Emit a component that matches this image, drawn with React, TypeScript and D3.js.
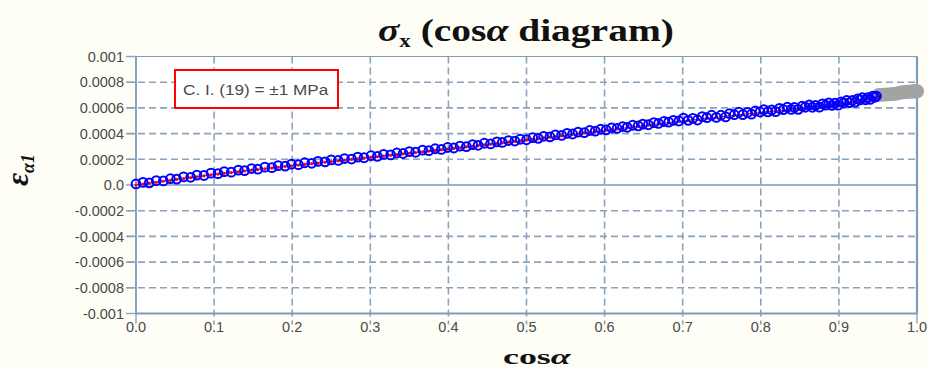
import React, { useLayoutEffect, useRef, useState } from "react";
import * as d3 from "d3";

// cos(alpha) of the measured points
const cosAlpha = [
  0.000, 0.009, 0.017, 0.026, 0.035, 0.044, 0.052, 0.061, 0.070, 0.078, 0.087, 0.096,
  0.105, 0.113, 0.122, 0.131, 0.139, 0.148, 0.156, 0.165, 0.174, 0.182, 0.191, 0.199,
  0.208, 0.216, 0.225, 0.233, 0.242, 0.250, 0.259, 0.267, 0.276, 0.284, 0.292,
  0.301, 0.309, 0.317, 0.326, 0.334, 0.342, 0.350, 0.358, 0.367, 0.375, 0.383, 0.391, 0.399,
  0.407, 0.415, 0.423, 0.431, 0.438, 0.446, 0.454, 0.462, 0.469, 0.477, 0.485, 0.492,
  0.500, 0.508, 0.515, 0.522, 0.530, 0.537, 0.545, 0.552, 0.559, 0.566, 0.574, 0.581, 0.588, 0.595,
  0.602, 0.609, 0.616, 0.623, 0.629, 0.636, 0.643, 0.649, 0.656, 0.663, 0.669, 0.676, 0.682, 0.688, 0.695,
  0.701, 0.707, 0.713, 0.719, 0.725, 0.731, 0.737, 0.743, 0.749, 0.755, 0.760, 0.766, 0.772, 0.777, 0.783, 0.788, 0.793, 0.799,
  0.804, 0.809, 0.814, 0.819, 0.824, 0.829, 0.834, 0.839, 0.843, 0.848, 0.853, 0.857, 0.862, 0.866, 0.870, 0.875, 0.879, 0.883, 0.887, 0.891, 0.895, 0.899,
  0.903, 0.906, 0.910, 0.914, 0.917, 0.921, 0.924, 0.927, 0.930, 0.934, 0.937, 0.940, 0.943, 0.946, 0.948,
];

// measured strain (micro-strain), blue circles
const measuredMicro = [
  8, 20, 17, 34, 32, 49, 46, 63, 60, 77, 74, 92,
  88, 104, 100, 116, 112, 128, 123, 139, 135, 151, 147, 162,
  158, 173, 169, 184, 180, 195, 191, 206, 202, 217, 212,
  228, 223, 238, 234, 249, 245, 260, 255, 271, 267, 282, 277, 292,
  288, 303, 299, 314, 309, 325, 320, 336, 331, 346, 342, 356,
  352, 368, 363, 379, 375, 390, 386, 402, 397, 412, 408, 424, 419, 434,
  429, 445, 440, 455, 449, 465, 460, 474, 469, 485, 479, 494, 489, 503, 498,
  520, 503, 519, 506, 532, 524, 543, 526, 543, 530, 555, 547, 566, 548, 565, 551, 576, 568,
  587, 569, 585, 571, 596, 587, 605, 588, 603, 589, 614, 605, 623, 605, 620, 606, 631, 621, 639, 620, 636, 621,
  647, 639, 658, 641, 658, 645, 670, 662, 680, 663, 680, 666, 691, 683, 692,
];

// computed strain (micro-strain), red dots
const computedMicro = [
  0, 7, 14, 21, 29, 36, 43, 50, 57, 64, 71, 79,
  85, 91, 97, 103, 109, 115, 120, 126, 132, 138, 144, 149,
  155, 160, 166, 171, 177, 182, 188, 193, 199, 204, 209,
  215, 220, 225, 231, 236, 242, 247, 252, 258, 264, 269, 274, 279,
  285, 290, 296, 301, 306, 312, 317, 323, 328, 333, 339, 343,
  349, 355, 360, 366, 372, 377, 383, 389, 394, 399, 405, 411, 416, 421,
  426, 432, 437, 442, 446, 452, 457, 461, 466, 472, 476, 481, 486, 490, 495,
  500, 504, 507, 511, 515, 519, 523, 527, 531, 535, 538, 542, 546, 549, 553, 556, 559, 563,
  567, 570, 573, 576, 579, 582, 585, 589, 591, 594, 597, 600, 603, 606, 608, 611, 614, 616, 619, 621, 624, 626,
  630, 634, 638, 642, 646, 650, 653, 657, 660, 664, 668, 671, 674, 678, 680,
];

// excluded points (gray)
const grayCos = [0.951, 0.956, 0.961, 0.966, 0.970, 0.974, 0.978, 0.982, 0.985, 0.988, 0.990, 0.993, 0.995, 0.996, 0.998, 0.999, 1.0];
const grayMicro = [700, 702, 704, 706, 708, 712, 718, 722, 724, 725, 726, 727, 728, 728, 729, 729, 730];

const xTicks = [0, 0.1, 0.2, 0.3, 0.4, 0.5, 0.6, 0.7, 0.8, 0.9, 1.0];
const xTickLabels = ["0.0", "0.1", "0.2", "0.3", "0.4", "0.5", "0.6", "0.7", "0.8", "0.9", "1.0"];
const yTicks = [0.001, 0.0008, 0.0006, 0.0004, 0.0002, 0, -0.0002, -0.0004, -0.0006, -0.0008, -0.001];
const yTickLabels = ["0.001", "0.0008", "0.0006", "0.0004", "0.0002", "0.0", "-0.0002", "-0.0004", "-0.0006", "-0.0008", "-0.001"];
const legendText = "C. I. (19) = \u00B11 MPa";

const W = 929;
const H = 367;
const PL = 136, PR = 917, PT = 56.5, PB = 313.5;
const GRID = "#8ba4bc";
const AXIS = "#7e9bb7";
const LABEL = "#4a4a4a";

function FitText({ x0, x1, children }: { x0: number; x1: number; children: React.ReactNode }) {
  const ref = useRef<SVGGElement>(null);
  const [t, setT] = useState("");
  useLayoutEffect(() => {
    const g = ref.current;
    if (!g || !g.firstChild) return;
    const b = (g.firstChild as SVGGraphicsElement).getBBox();
    if (b.width > 0) {
      const sx = (x1 - x0) / b.width;
      setT(`translate(${x0},0) scale(${sx},1) translate(${-b.x},0)`);
    }
  }, [x0, x1]);
  return <g ref={ref} transform={t}>{children}</g>;
}

export default function App() {
  const x = d3.scaleLinear().domain([0, 1]).range([PL, PR]);
  const y = d3.scaleLinear().domain([-0.001, 0.001]).range([PB, PT]);
  const n = Math.min(cosAlpha.length, measuredMicro.length, computedMicro.length);
  const idx = d3.range(n);
  const redLine = d3
    .line<number>()
    .x((i) => x(cosAlpha[i]))
    .y((i) => y(computedMicro[i] * 1e-6))(idx) as string;

  return (
    <svg width={W} height={H} style={{ position: "absolute", left: 0, top: 0 }}>
      <rect x={0} y={0} width={W} height={H} fill="#fefef6" />
      <rect x={PL} y={PT} width={PR - PL} height={PB - PT} fill="#ffffff" />

      {/* horizontal grid */}
      {yTicks.map((v, i) =>
        v === 0 || Math.abs(v) === 0.001 ? null : (
          <line key={"hg" + i} x1={PL - 9} x2={PR} y1={y(v)} y2={y(v)} stroke={GRID} strokeWidth={1.6} strokeDasharray="7,4" />
        )
      )}
      {/* vertical grid */}
      {xTicks.map((v, i) =>
        v === 0 || v === 1 ? null : (
          <line key={"vg" + i} x1={x(v)} x2={x(v)} y1={PT} y2={PB + 11} stroke={GRID} strokeWidth={1.6} strokeDasharray="7,4" />
        )
      )}
      {/* y tick marks */}
      {yTicks.map((v, i) => (
        <line key={"yt" + i} x1={PL - 10} x2={PL} y1={y(v)} y2={y(v)} stroke={GRID} strokeWidth={1.4} />
      ))}
      <line x1={x(0)} x2={x(0)} y1={PB} y2={PB + 10} stroke={GRID} strokeWidth={1.4} />
      <line x1={x(1)} x2={x(1)} y1={PB} y2={PB + 10} stroke={GRID} strokeWidth={1.4} />

      {/* zero line */}
      <line x1={PL} x2={PR} y1={y(0)} y2={y(0)} stroke={AXIS} strokeWidth={1.6} />
      {/* frame */}
      <line x1={PL} x2={PR} y1={PT} y2={PT} stroke={AXIS} strokeWidth={1.2} />
      <line x1={PL} x2={PR} y1={PB} y2={PB} stroke={AXIS} strokeWidth={1.8} />
      <line x1={PL} x2={PL} y1={PT} y2={PB} stroke={AXIS} strokeWidth={1.8} />
      <line x1={PR} x2={PR} y1={PT} y2={PB} stroke={AXIS} strokeWidth={2.2} />

      {/* tick labels */}
      {yTicks.map((v, i) => (
        <text key={"yl" + i} x={PL - 12} y={y(v)} dy="0.36em" textAnchor="end" fontFamily="Liberation Sans, Arial, sans-serif" fontSize={14.5} fill={LABEL}>
          {yTickLabels[i]}
        </text>
      ))}
      {xTicks.map((v, i) => (
        <text key={"xl" + i} x={x(v)} y={332} textAnchor="middle" fontFamily="Liberation Sans, Arial, sans-serif" fontSize={14.5} fill={LABEL}>
          {xTickLabels[i]}
        </text>
      ))}

      {/* gray excluded band */}
      {grayCos.map((c, i) => (
        <circle key={"g" + i} cx={x(c)} cy={y(grayMicro[i] * 1e-6)} r={7} fill="#a3a3a3" />
      ))}

      {/* red computed */}
      <path d={redLine} fill="none" stroke="#ff0000" strokeWidth={1} />
      {idx.map((i) => (
        <circle key={"r" + i} cx={x(cosAlpha[i])} cy={y(computedMicro[i] * 1e-6)} r={1.6} fill="#ff0000" />
      ))}

      {/* blue measured */}
      {idx.map((i) => (
        <circle key={"b" + i} cx={x(cosAlpha[i])} cy={y(measuredMicro[i] * 1e-6)} r={4.4} fill="none" stroke="#0000ff" strokeWidth={2} />
      ))}

      {/* legend */}
      <rect x={175} y={70} width={163} height={38} fill="#ffffff" stroke="#ff0000" strokeWidth={2} />
      <FitText x0={183} x1={329}>
        <text x={0} y={95} fontFamily="Liberation Sans, Arial, sans-serif" fontSize={15} fill={LABEL}>
          {legendText}
        </text>
      </FitText>

      {/* title */}
      <FitText x0={378} x1={674}>
        <text y={41} fontFamily="Liberation Serif, Times New Roman, serif" fontWeight="bold" fontSize={31} fill="#111" style={{ whiteSpace: "pre" }}>
          <tspan fontStyle="italic">σ</tspan>
          <tspan fontSize={18} dy={6}>x</tspan>
          <tspan dy={-6}> (cos</tspan>
          <tspan fontStyle="italic">α</tspan>
          <tspan> diagram)</tspan>
        </text>
      </FitText>

      {/* x axis title */}
      <FitText x0={503} x1={572}>
        <text y={364} fontFamily="Liberation Serif, Times New Roman, serif" fontWeight="bold" fontSize={22} fill="#111">
          cos<tspan fontStyle="italic">α</tspan>
        </text>
      </FitText>

      {/* y axis title */}
      <text transform="translate(28,170) rotate(-90)" textAnchor="middle" fontFamily="Liberation Serif, Times New Roman, serif" fontWeight="bold" fontStyle="italic" fontSize={32} fill="#111">
        ε<tspan fontSize={18} dy={6}>α1</tspan>
      </text>
    </svg>
  );
}
